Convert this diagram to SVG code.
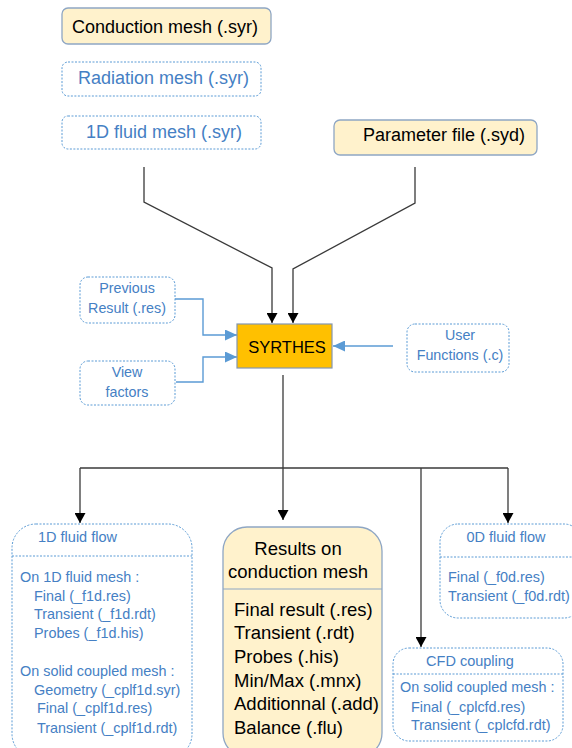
<svg xmlns="http://www.w3.org/2000/svg" width="572" height="748" viewBox="0 0 572 748">
<defs>
<marker id="ak" markerUnits="userSpaceOnUse" markerWidth="11" markerHeight="11" refX="10" refY="5.5" orient="auto"><path d="M0,0 L10,5.5 L0,11 z" fill="#000"/></marker>
<marker id="ab" markerUnits="userSpaceOnUse" markerWidth="12" markerHeight="11" refX="12" refY="5.5" orient="auto"><path d="M0,0 L12,5.5 L0,11 z" fill="#5b9bd5"/></marker>
<style>
text{font-family:"Liberation Sans",Arial,sans-serif}
.solid{fill:#fff2cc;stroke:#8ea6c4;stroke-width:1.3}
.dash{fill:#fff;stroke:#5b9bd5;stroke-width:1;stroke-dasharray:2 1.5}
.dsep{stroke:#5b9bd5;stroke-width:1;stroke-dasharray:2 1.5;fill:none}
.blk{fill:#000}
.blu{fill:#4580c4}
.c{text-anchor:middle}
.lk{stroke:#3a3a3a;stroke-width:1.3;fill:none}
.lb{stroke:#5b9bd5;stroke-width:1.4;fill:none}
</style>
</defs>
<g id="connectors">
<path class="lk" d="M144,167 V202 L272,268 V323" marker-end="url(#ak)"/>
<path class="lk" d="M415,167 V203 L293,269 V323" marker-end="url(#ak)"/>
<path class="lb" d="M175,299 H203 V335 H237" marker-end="url(#ab)"/>
<path class="lb" d="M176,382 H203 V357 H237" marker-end="url(#ab)"/>
<path class="lb" d="M393,346 H333" marker-end="url(#ab)"/>
<path class="lk" d="M283,375 V520" marker-end="url(#ak)"/>
<path class="lk" d="M80,468 H508"/>
<path class="lk" d="M80,468 V523" marker-end="url(#ak)"/>
<path class="lk" d="M508,468 V523" marker-end="url(#ak)"/>
<path class="lk" d="M421,468 V647" marker-end="url(#ak)"/>
</g>
<g id="conduction-mesh">
<rect class="solid" x="62" y="8" width="209" height="36" rx="6"/>
<text class="blk" x="72" y="33" font-size="18">Conduction mesh (.syr)</text>
</g>
<g id="radiation-mesh">
<rect class="dash" x="62" y="62" width="199" height="34" rx="6"/>
<text class="blu" x="78" y="84" font-size="18">Radiation mesh (.syr)</text>
</g>
<g id="fluid-mesh-1d">
<rect class="dash" x="62" y="116" width="199" height="33" rx="6"/>
<text class="blu" x="86" y="138" font-size="18">1D fluid mesh (.syr)</text>
</g>
<g id="parameter-file">
<rect class="solid" x="334" y="120" width="203" height="35" rx="6"/>
<text class="blk" x="363" y="141" font-size="18">Parameter file (.syd)</text>
</g>
<g id="previous-result">
<rect class="dash" x="80" y="277" width="95" height="46" rx="8"/>
<text class="blu c" x="127" y="293" font-size="14.3">Previous</text>
<text class="blu c" x="127" y="313" font-size="14.3">Result (.res)</text>
</g>
<g id="view-factors">
<rect class="dash" x="80" y="361" width="95" height="44" rx="8"/>
<text class="blu c" x="127" y="377" font-size="14.3">View</text>
<text class="blu c" x="127" y="397" font-size="14.3">factors</text>
</g>
<g id="syrthes">
<rect x="237" y="324" width="95" height="44" fill="#ffc000" stroke="#8497b0" stroke-width="1.2"/>
<text class="blk c" x="287" y="353" font-size="16.5">SYRTHES</text>
</g>
<g id="user-functions">
<rect class="dash" x="407" y="324" width="102" height="48" rx="8"/>
<text class="blu c" x="460" y="340" font-size="14.3">User</text>
<text class="blu c" x="460" y="360" font-size="14.3">Functions (.c)</text>
</g>
<g id="fluid-flow-1d">
<rect class="dash" x="12" y="524" width="180" height="234" rx="24"/>
<line class="dsep" x1="12" y1="556" x2="192" y2="556"/>
<text class="blu" x="38" y="542" font-size="14.5">1D fluid flow</text>
<text class="blu" x="20" y="582" font-size="14.4">On 1D fluid mesh :</text>
<text class="blu" x="34" y="601" font-size="14.4">Final (_f1d.res)</text>
<text class="blu" x="34" y="619" font-size="14.4">Transient (_f1d.rdt)</text>
<text class="blu" x="34" y="638" font-size="14.4">Probes (_f1d.his)</text>
<text class="blu" x="20" y="676" font-size="14.4">On solid coupled mesh :</text>
<text class="blu" x="34" y="695" font-size="14.4">Geometry (_cplf1d.syr)</text>
<text class="blu" x="37" y="713" font-size="14.4">Final (_cplf1d.res)</text>
<text class="blu" x="37" y="733" font-size="14.4">Transient (_cplf1d.rdt)</text>
</g>
<g id="results-conduction">
<rect class="solid" x="223" y="527" width="159" height="230" rx="24"/>
<line x1="223" y1="589" x2="382" y2="589" stroke="#8ea6c4" stroke-width="1.2"/>
<text class="blk c" x="298" y="555" font-size="18.5">Results on</text>
<text class="blk c" x="298" y="578" font-size="18.5">conduction mesh</text>
<text class="blk" x="234" y="616" font-size="18.5">Final result (.res)</text>
<text class="blk" x="234" y="639" font-size="18.5">Transient (.rdt)</text>
<text class="blk" x="234" y="663" font-size="18.5">Probes (.his)</text>
<text class="blk" x="234" y="687" font-size="18.5">Min/Max (.mnx)</text>
<text class="blk" x="234" y="710" font-size="18.5">Additionnal (.add)</text>
<text class="blk" x="234" y="734" font-size="18.5">Balance (.flu)</text>
</g>
<g id="fluid-flow-0d">
<rect class="dash" x="440" y="524" width="142" height="94" rx="18"/>
<line class="dsep" x1="440" y1="557" x2="572" y2="557"/>
<text class="blu c" x="506" y="542" font-size="14.5">0D fluid flow</text>
<text class="blu" x="448" y="582" font-size="14.4">Final (_f0d.res)</text>
<text class="blu" x="448" y="601" font-size="14.4">Transient (_f0d.rdt)</text>
</g>
<g id="cfd-coupling">
<rect class="dash" x="393" y="648" width="170" height="93" rx="16"/>
<line class="dsep" x1="393" y1="674" x2="563" y2="674"/>
<text class="blu c" x="470" y="666" font-size="14.5">CFD coupling</text>
<text class="blu" x="400" y="692" font-size="14.4">On solid coupled mesh :</text>
<text class="blu" x="411" y="712" font-size="14.4">Final (_cplcfd.res)</text>
<text class="blu" x="411" y="730" font-size="14.4">Transient (_cplcfd.rdt)</text>
</g>
</svg>
